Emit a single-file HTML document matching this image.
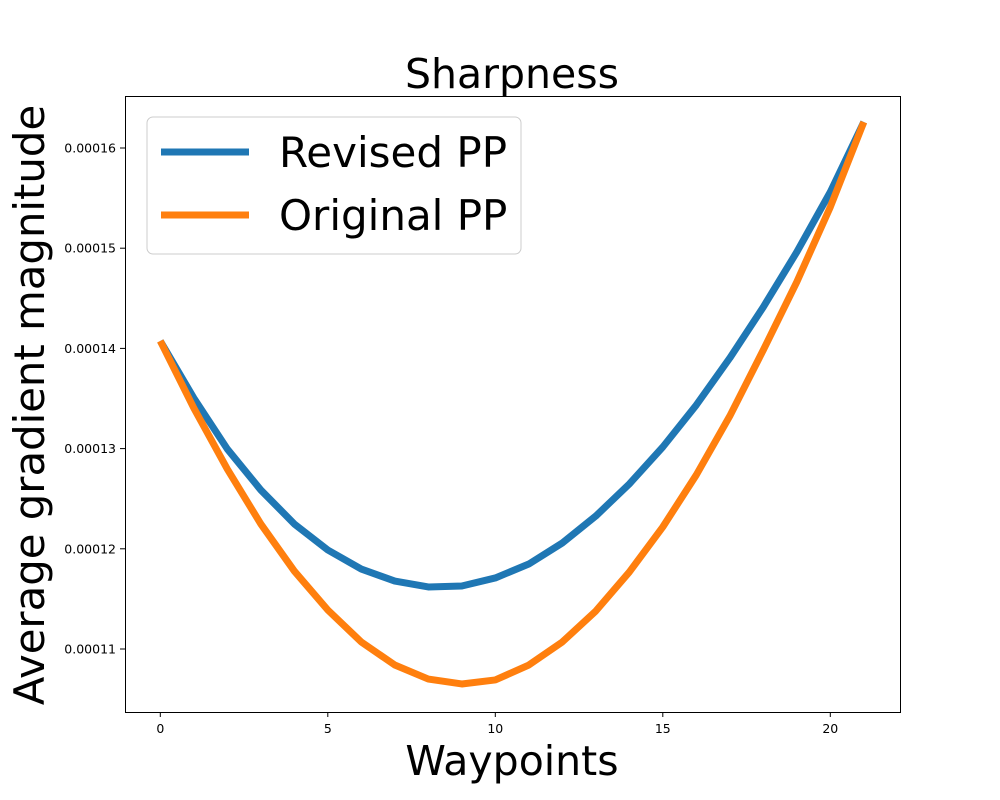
<!DOCTYPE html>
<html><head><meta charset="utf-8"><style>
body{margin:0;background:#fff;}
svg{display:block;font-family:"DejaVu Sans","Liberation Sans",sans-serif;}
</style></head><body>
<svg id="chart" width="1000" height="800" viewBox="0 0 1000 800">
<rect width="1000" height="800" fill="#fff"/>
<text x="512" y="88" font-size="41" text-anchor="middle">Sharpness</text>
<text x="512" y="775" font-size="41" text-anchor="middle">Waypoints</text>
<text transform="translate(44,405) rotate(-90)" font-size="41.8" text-anchor="middle">Average gradient magnitude</text>
<g id="ticks"></g>
<g id="series"></g>
<rect x="125.5" y="96.5" width="775" height="616" fill="none" stroke="#000" stroke-width="1"/>
<g>
<rect x="147" y="117" width="374" height="137" rx="6" fill="#fff" fill-opacity="0.8" stroke="#ccc"/>
<line x1="161" y1="152" x2="249" y2="152" stroke="#1f77b4" stroke-width="7"/>
<text x="279" y="167" font-size="42">Revised PP</text>
<line x1="161" y1="215" x2="249" y2="215" stroke="#ff7f0e" stroke-width="7"/>
<text x="279" y="230" font-size="42">Original PP</text>
</g>
</svg>
<script>
const revised = [1.4074,1.3505,1.2996,1.2587,1.2248,1.1988,1.1798,1.1678,1.1619,1.1629,1.1709,1.1848,1.2058,1.2327,1.2647,1.3016,1.3435,1.3904,1.4413,1.4962,1.5561,1.6259];
const original = [1.4074,1.3405,1.2796,1.2248,1.1778,1.1389,1.1070,1.0840,1.0700,1.0651,1.0691,1.0840,1.1070,1.1379,1.1768,1.2218,1.2737,1.3325,1.3984,1.4663,1.5411,1.6259];
const xTicks = [0,5,10,15,20];
const yTicks = [1.1,1.2,1.3,1.4,1.5,1.6];
const yTickLabels = ["0.00011","0.00012","0.00013","0.00014","0.00015","0.00016"];
const NS="http://www.w3.org/2000/svg";
function xs(i){return 160.3 + i*33.5;}
function ys(v){return 148 + (1.6 - v)*1002;}
const tg=document.getElementById('ticks');
xTicks.forEach(t=>{
  const l=document.createElementNS(NS,'line');
  
  
  l.setAttribute('x1',xs(t));l.setAttribute('x2',xs(t));l.setAttribute('y1',712);l.setAttribute('y2',717);l.setAttribute('stroke','#000');
  tg.appendChild(l);
  const tx=document.createElementNS(NS,'text');
  
  
  tx.setAttribute('x',xs(t));tx.setAttribute('y',733);tx.setAttribute('font-size','12.5');tx.setAttribute('text-anchor','middle');
  tx.textContent=t;tg.appendChild(tx);
});
yTicks.forEach((t,i)=>{
  const l=document.createElementNS(NS,'line');
  
  
  l.setAttribute('x1',120);l.setAttribute('x2',125);l.setAttribute('y1',ys(t));l.setAttribute('y2',ys(t));l.setAttribute('stroke','#000');
  tg.appendChild(l);
  const tx=document.createElementNS(NS,'text');
  
  
  tx.setAttribute('x',116);tx.setAttribute('y',ys(t)+4.5);tx.setAttribute('font-size','12.5');tx.setAttribute('text-anchor','end');
  tx.textContent=yTickLabels[i];tg.appendChild(tx);
});
const sg=document.getElementById('series');
function draw(arr,color,name){
  const p=document.createElementNS(NS,'polyline');
  
  
  p.setAttribute('points',arr.map((v,i)=>xs(i)+','+ys(v)).join(' '));
  p.setAttribute('fill','none');p.setAttribute('stroke',color);p.setAttribute('stroke-width','7');p.setAttribute('stroke-linejoin','round');
  sg.appendChild(p);
}
draw(revised,'#1f77b4','revised-pp-line');
draw(original,'#ff7f0e','original-pp-line');
</script>
</body></html>
